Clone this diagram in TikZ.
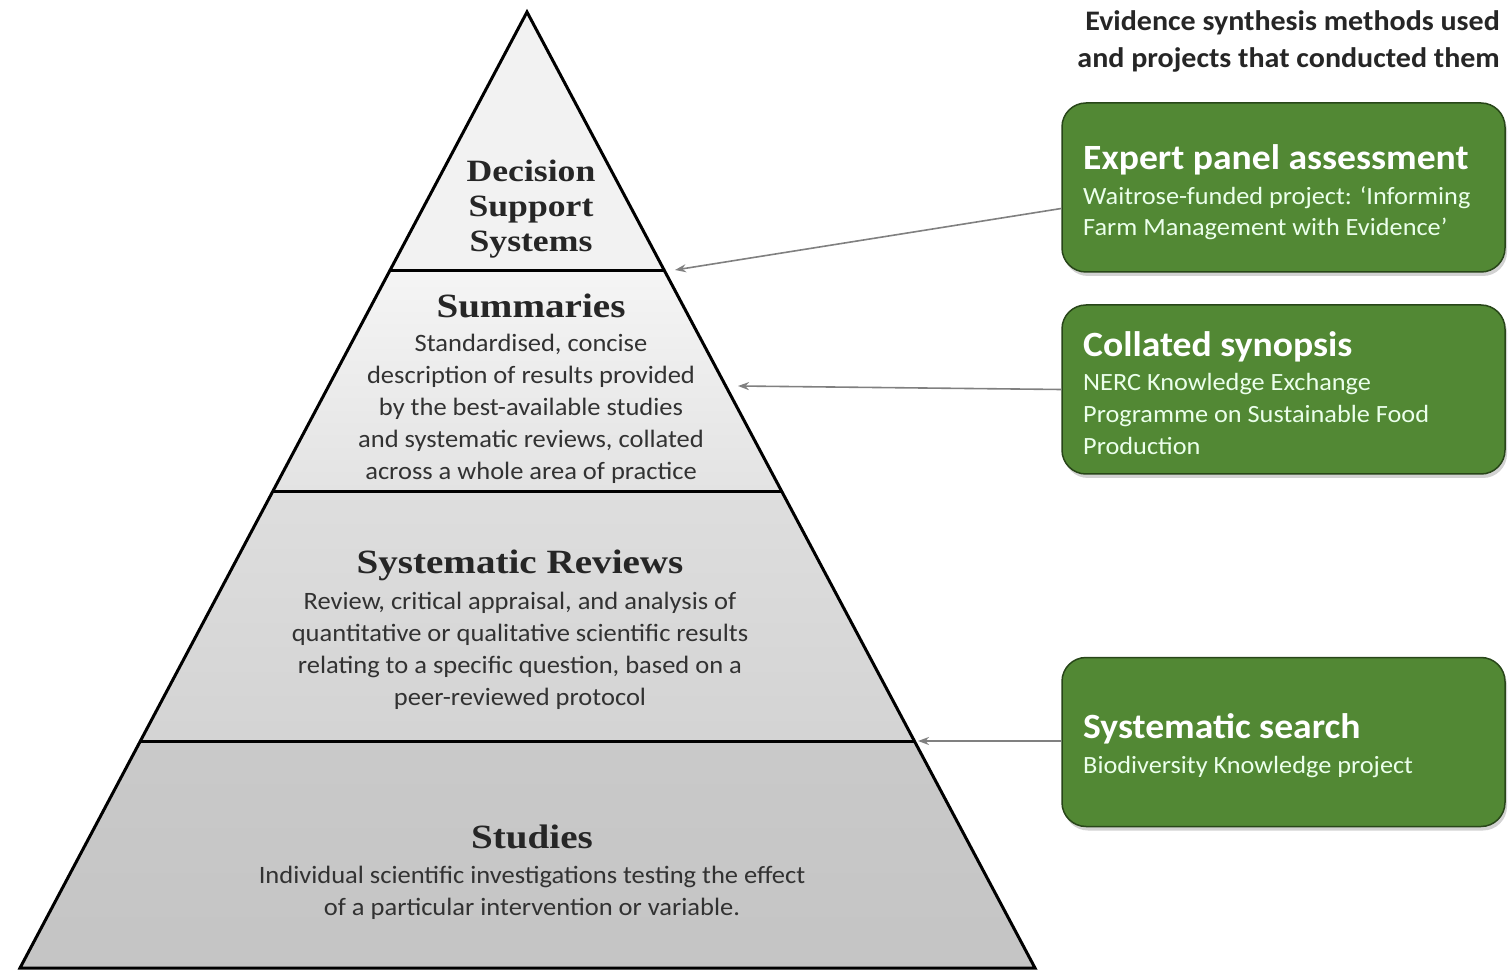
\documentclass[tikz,border=0pt]{standalone}
\usepackage{fontspec}
\setmainfont[FakeStretch=1.15]{Liberation Serif}
\newfontfamily\carlito[FakeStretch=1.06]{Carlito}
\usetikzlibrary{arrows.meta,shadows,calc}
\definecolor{boxgreen}{RGB}{82,136,52}
\definecolor{boxedge}{RGB}{40,70,25}
\definecolor{arrgray}{RGB}{128,128,128}
\definecolor{txtgray}{RGB}{50,50,50}
\begin{document}
\begin{tikzpicture}[x=1pt,y=-1pt,
  gbox/.style={draw=boxedge,line width=1.5pt,fill=boxgreen,rounded corners=24pt,
    minimum width=443pt,minimum height=169pt,inner sep=0pt,
    drop shadow={shadow xshift=2pt,shadow yshift=-4pt,opacity=0.35}},
  gtitle/.style={anchor=base west,inner sep=0pt,text=white,font=\carlito\bfseries\fontsize{35.5}{40}\selectfont},
  gsub/.style={anchor=north west,inner sep=0pt,text=white!92!green,align=left,font=\carlito\fontsize{24.8}{31.8}\selectfont},
  ptitle/.style={inner sep=0pt,align=center,text=black!85,font=\bfseries\fontsize{34}{36}\selectfont},
  pbody/.style={inner sep=0pt,align=center,text=txtgray,font=\carlito\fontsize{25}{32}\selectfont},
  edge/.style={line width=3pt,line join=miter},
  arr/.style={draw=arrgray,line width=1.6pt,-{Stealth[length=11pt,width=8pt]}},
  head/.style={anchor=north east,inner sep=0pt,align=right,text=black!85,font=\carlito\bfseries\fontsize{28.3}{37}\selectfont}
]
\useasboundingbox (0,0) rectangle (1508,973);
\fill[white] (0,0) rectangle (1508,973);
% pyramid points
\coordinate (A) at (527,12);
\coordinate (L1) at (389.6,271); \coordinate (R1) at (664.6,271);
\coordinate (L2) at (273,491);   \coordinate (R2) at (781.5,491);
\coordinate (L3) at (140.4,741); \coordinate (R3) at (914.4,741);
\coordinate (BL) at (20,968);    \coordinate (BR) at (1035,968);
% bands
\fill[black!5] (A) -- (R1) -- (L1) -- cycle;
\shade[top color=black!4,bottom color=black!11] (L1) -- (R1) -- (R2) -- (L2) -- cycle;
\shade[top color=black!13,bottom color=black!17] (L2) -- (R2) -- (R3) -- (L3) -- cycle;
\shade[top color=black!21,bottom color=black!23] (L3) -- (R3) -- (BR) -- (BL) -- cycle;
\draw[edge] (A) -- (BR) -- (BL) -- cycle;
\draw[edge] (L1) -- (R1);
\draw[edge] (L2) -- (R2);
\draw[edge] (L3) -- (R3);
% pyramid texts
\node[ptitle,font=\bfseries\fontsize{31}{36}\selectfont] (dss) at (531,209) {Decision\\[-0.5pt]Support\\[-1pt]Systems};
\node[ptitle] (sum) at (531,306) {Summaries};
\node[pbody] (sumb) at (531,409) {Standardised, concise\\description of results provided\\by the best-available studies\\and systematic reviews, collated\\across a whole area of practice};
\node[ptitle] (sr) at (520,565) {Systematic Reviews};
\node[pbody] (srb) at (520,650.5) {Review, critical appraisal, and analysis of\\quantitative or qualitative scientific results\\relating to a specific question, based on a\\peer-reviewed protocol};
\node[ptitle] (st) at (532,837) {Studies};
\node[pbody] (stb) at (532,893) {Individual scientific investigations testing the effect\\of a particular intervention or variable.};
% heading
\node[head] (hd) at (1500,10) {Evidence synthesis methods used\\and projects that conducted them};
% green boxes
\node[gbox] (b1) at (1283.5,187.5) {};
\node[gbox] (b2) at (1283.5,389.5) {};
\node[gbox] (b3) at (1283.5,742) {};
\node[gtitle] (t1) at (1083,170) {Expert panel assessment};
\node[gsub] (s1) at (1083,186) {Waitrose-funded project: ‘Informing\\Farm Management with Evidence’};
\node[gtitle] (t2) at (1083,357) {Collated synopsis};
\node[gsub] (s2) at (1083,373) {NERC Knowledge Exchange\\Programme on Sustainable Food\\Production};
\node[gtitle] (t3) at (1083,738) {Systematic search};
\node[gsub] (s3) at (1083,756) {Biodiversity Knowledge project};
% arrows
\coordinate (p1) at (675,270);
\coordinate (p2) at (738,386);
\coordinate (p3) at (918,741);
\draw[arr] ([yshift=-21pt]b1.west) -- (p1);
\draw[arr] (b2.west) -- (p2);
\draw[arr] ([yshift=1pt]b3.west) -- (p3);
\end{tikzpicture}
\end{document}
